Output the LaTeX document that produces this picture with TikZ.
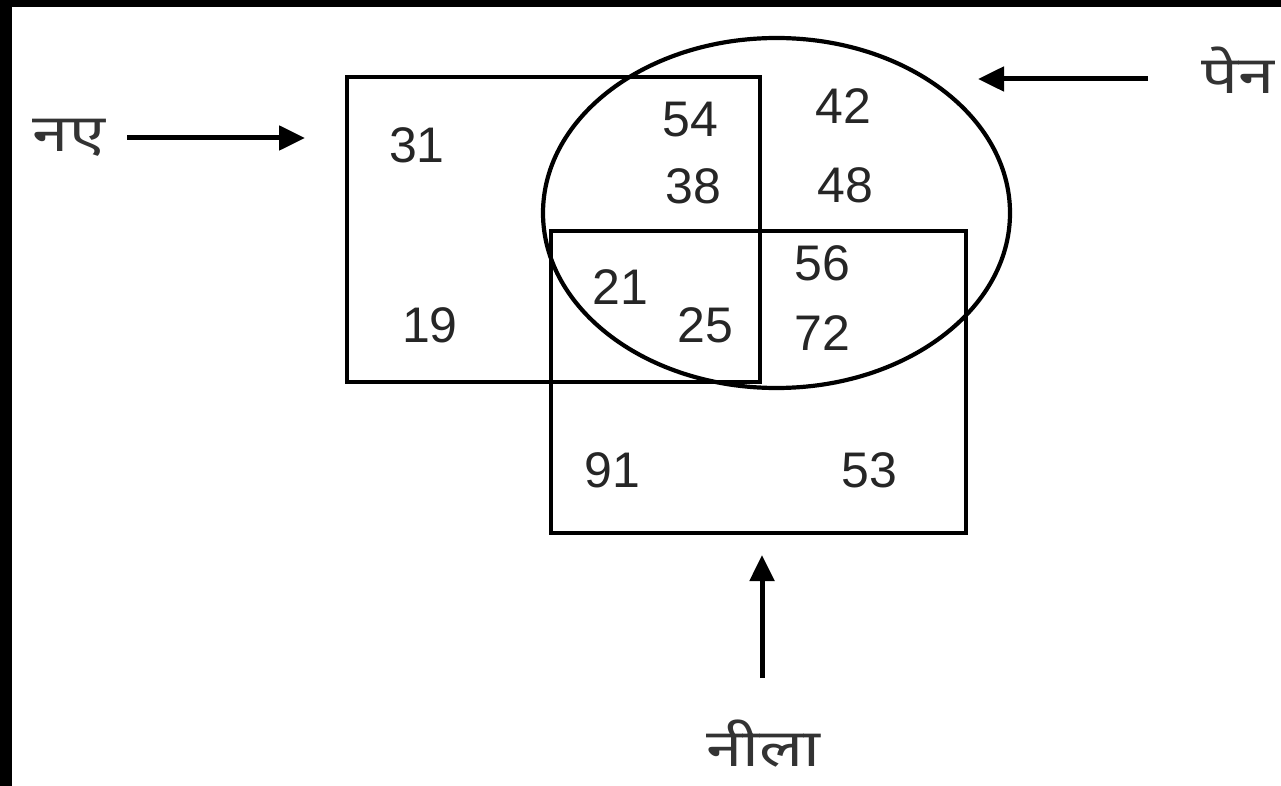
\documentclass[tikz,border=0pt]{standalone}
\usepackage{fontspec}
\setmainfont{Liberation Sans}
\newfontfamily\deva[Script=Devanagari,FakeStretch=1.25]{Noto Sans}
\usetikzlibrary{arrows.meta,shapes.geometric}
\begin{document}
\begin{tikzpicture}[x=1pt,y=-1pt,
  shapeline/.style={draw=black,line width=4.2pt,inner sep=0pt,outer sep=0pt},
  boxA/.style={shapeline,rectangle},
  ell/.style={shapeline,ellipse},
  num/.style={font=\fontsize{50}{56}\selectfont,text=black!85,inner sep=0pt},
  lab/.style={font=\deva\fontsize{52}{58}\selectfont,text=black!80,inner sep=0pt},
  arr/.style={line width=5pt,-{Triangle[length=26pt,width=24pt]}}]
\fill[white] (0,0) rectangle (1281,786);
\useasboundingbox (0,0) rectangle (1281,786);
\fill[black] (0,0) rectangle (1281,7);
\fill[black] (0,0) rectangle (12,786);
% shapes
\node[boxA,minimum width=413pt,minimum height=305pt] (nae) at (553.5,229.5) {};
\node[boxA,minimum width=415pt,minimum height=302pt] (neela) at (758.5,382) {};
\node[ell,minimum width=467pt,minimum height=350pt] (pen) at (776.5,213) {};
% numbers
\node[num] (n31) at (417,145) {31};
\node[num] (n19) at (430,325) {19};
\node[num] (n54) at (690,120) {54};
\node[num] (n38) at (693,186) {38};
\node[num] (n42) at (843,106) {42};
\node[num] (n48) at (845,185) {48};
\node[num] (n21) at (620,287) {21};
\node[num] (n25) at (705,325) {25};
\node[num] (n56) at (822,263) {56};
\node[num] (n72) at (822,333) {72};
\node[num] (n91) at (612,470) {91};
\node[num] (n53) at (869,470) {53};
% labels
\node[lab] (lnae) at (69,138) {नए};
\node[lab] (lpen) at (1238,70) {पेन};
\node[lab] (lneela) at (763,744) {नीला};
% arrows
\coordinate (a1s) at (127,138);
\coordinate (a1e) at (305,138);
\coordinate (a2s) at (1148,79);
\coordinate (a2e) at (978,79);
\coordinate (a3s) at (762,678);
\coordinate (a3e) at (762,555);
\draw[arr] (a1s) -- (a1e);
\draw[arr] (a2s) -- (a2e);
\draw[arr] (a3s) -- (a3e);
\end{tikzpicture}
\end{document}
